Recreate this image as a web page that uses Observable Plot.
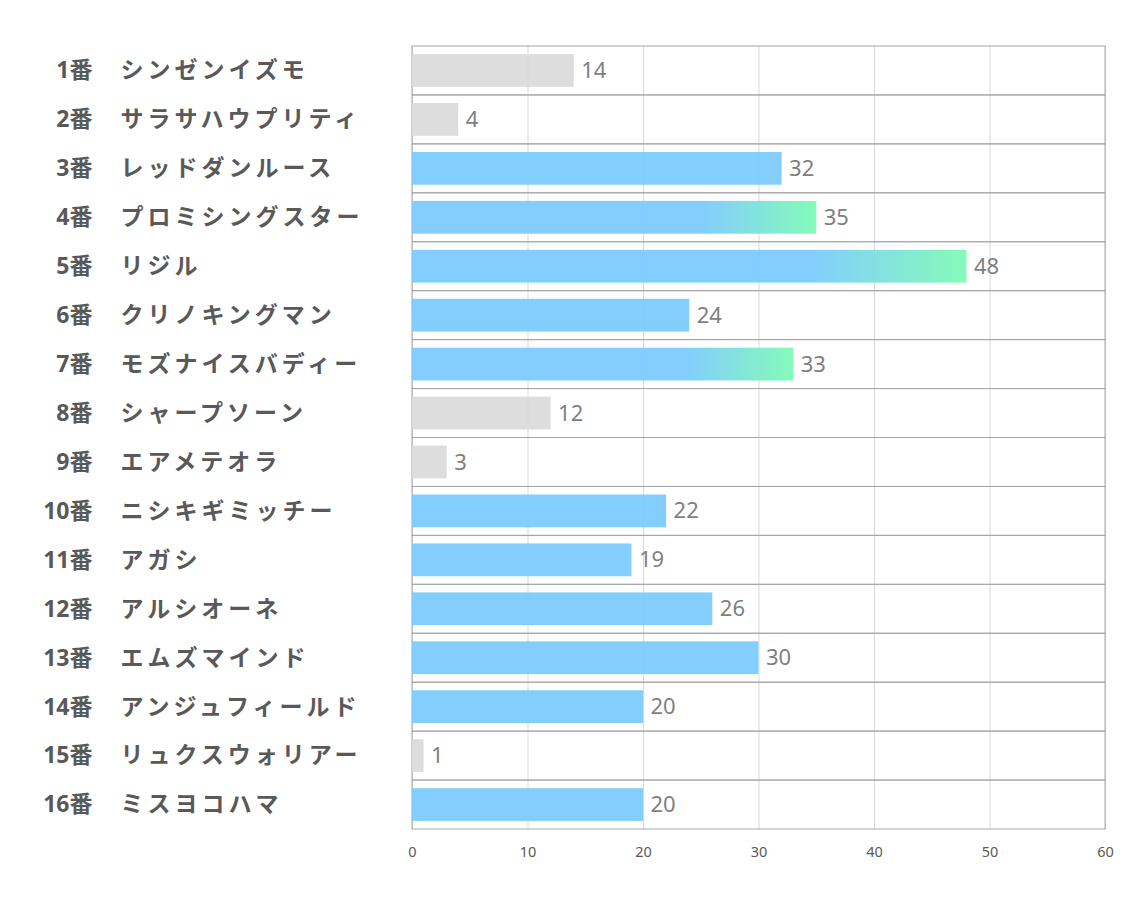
<!DOCTYPE html>
<html>
<head>
<meta charset="utf-8">
<script src="https://cdn.jsdelivr.net/npm/d3@7"></script>
<script src="https://cdn.jsdelivr.net/npm/@observablehq/plot@0.6"></script>
<style>
  html, body { margin: 0; padding: 0; background: #fff; }
  #chart { width: 1134px; height: 907px; }
</style>
</head>
<body>
<div id="chart"></div>
<script>
const numbers = ["1番","2番","3番","4番","5番","6番","7番","8番","9番","10番","11番","12番","13番","14番","15番","16番"];
const names = ["シンゼンイズモ","サラサハウプリティ","レッドダンルース","プロミシングスター","リジル","クリノキングマン","モズナイスバディー","シャープソーン","エアメテオラ","ニシキギミッチー","アガシ","アルシオーネ","エムズマインド","アンジュフィールド","リュクスウォリアー","ミスヨコハマ"];
const values = [14, 4, 32, 35, 48, 24, 33, 12, 3, 22, 19, 26, 30, 20, 1, 20];
// bar style: "gray", "blue", "grad"
const styles = ["gray","gray","blue","grad","grad","blue","grad","gray","gray","blue","blue","blue","blue","blue","gray","blue"];
const xTicks = [0, 10, 20, 30, 40, 50, 60];

const rows = numbers.map((n, i) => ({num: n, name: names[i], key: n, value: values[i], style: styles[i]}));

const W = 1134, H = 907;
const mL = 412, mR = 29, mT = 46, mB = 78;
const pad = 0.33;
const step = (H - mT - mB) / rows.length;
const off = step * pad / 2;

const BLUE = "#7ccbfd", GREEN = "#7efab6", GRAY = "#d9d9d9";

function defs() {
  const ns = "http://www.w3.org/2000/svg";
  const d = document.createElementNS(ns, "defs");
  const g = document.createElementNS(ns, "linearGradient");
  g.setAttribute("id", "barGrad");
  g.setAttribute("x1", "0"); g.setAttribute("x2", "1");
  g.setAttribute("y1", "0"); g.setAttribute("y2", "0");
  [[0, BLUE], [0.72, BLUE], [1, GREEN]].forEach(([o, c]) => {
    const s = document.createElementNS(ns, "stop");
    s.setAttribute("offset", o);
    s.setAttribute("stop-color", c);
    g.appendChild(s);
  });
  d.appendChild(g);
  return d;
}

const chart = Plot.plot({
  width: W,
  height: H,
  marginLeft: mL,
  marginRight: mR,
  marginTop: mT,
  marginBottom: mB,
  style: {fontFamily: "'Noto Sans', 'Noto Sans CJK JP', sans-serif", background: "#fff"},
  x: {domain: [0, 60], ticks: xTicks, label: null},
  y: {domain: rows.map(d => d.key), paddingInner: pad, paddingOuter: pad / 2, round: false, label: null, axis: null},
  marks: [
    defs,
    Plot.gridX(xTicks, {stroke: "#d9d9d9", strokeOpacity: 1}),
    Plot.barX(rows, {y: "key", x1: 0, x2: 60, fill: "none", stroke: "#a6a6a6", strokeWidth: 1, insetTop: -off, insetBottom: -off}),
    Plot.barX(rows.filter(d => d.style === "gray"), {y: "key", x: "value", fill: GRAY, fillOpacity: 0.9}),
    Plot.barX(rows.filter(d => d.style === "blue"), {y: "key", x: "value", fill: BLUE, fillOpacity: 0.95}),
    Plot.barX(rows.filter(d => d.style === "grad"), {y: "key", x: "value", fill: "url(#barGrad)", fillOpacity: 0.95}),
    Plot.text(rows, {y: "key", x: "value", text: d => String(d.value), textAnchor: "start", dx: 7, fontSize: 22, fill: "#7f7f7f"}),
    Plot.text(rows, {y: "key", frameAnchor: "left", text: "num", textAnchor: "end", dx: -320, fontSize: 23, fontWeight: "bold", fill: "#595959"}),
    Plot.text(rows, {y: "key", frameAnchor: "left", text: "name", textAnchor: "start", dx: -292, fontSize: 23, fontWeight: "bold", fill: "#595959", fontFamily: "'Noto Sans CJK JP', sans-serif", className: "horse-names"}),
    Plot.axisX(xTicks, {tickSize: 0, tickPadding: 17, fontSize: 14.5, fill: "#595959", label: null})
  ]
});
chart.querySelectorAll(".horse-names text, g.horse-names text").forEach(t => t.setAttribute("letter-spacing", "4"));
document.getElementById("chart").appendChild(chart);
</script>
</body>
</html>
